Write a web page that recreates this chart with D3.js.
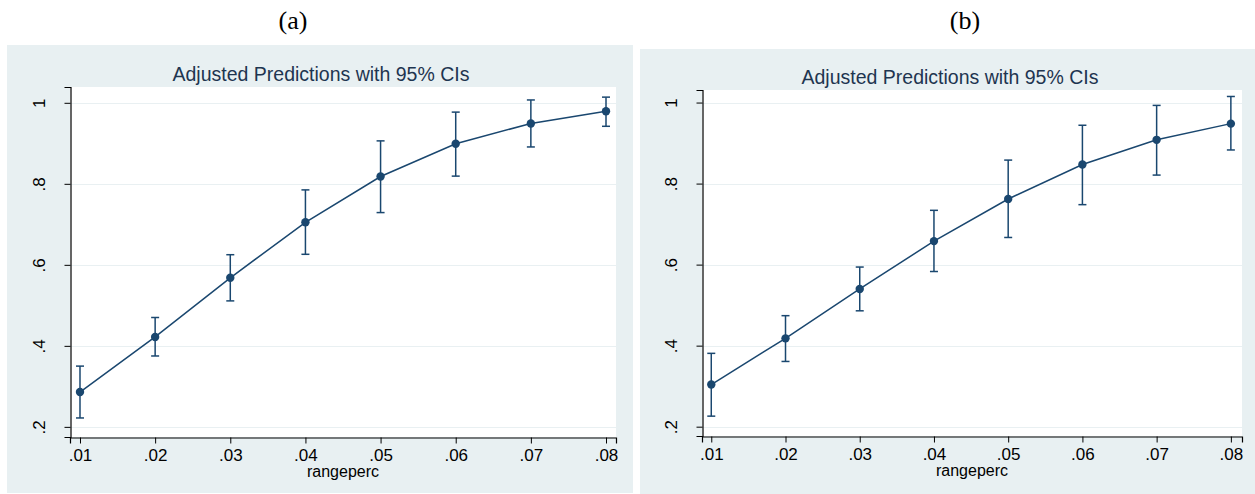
<!DOCTYPE html>
<html>
<head>
<meta charset="utf-8">
<script src="https://cdn.jsdelivr.net/npm/d3@7"></script>
<style>
  html, body { margin: 0; padding: 0; background: #ffffff; }
  svg { display: block; }
</style>
</head>
<body>
<svg id="chart" width="1255" height="494"></svg>
<script>
// Predicted margins at each rangeperc level, with 95% confidence bounds
const xValues = [0.01, 0.02, 0.03, 0.04, 0.05, 0.06, 0.07, 0.08];
const xTickLabels = [".01", ".02", ".03", ".04", ".05", ".06", ".07", ".08"];
const yTicks = [0.2, 0.4, 0.6, 0.8, 1];
const yTickLabels = [".2", ".4", ".6", ".8", "1"];

const marginA = [0.286, 0.422, 0.568, 0.705, 0.818, 0.899, 0.949, 0.979];
const upperA  = [0.350, 0.470, 0.625, 0.785, 0.906, 0.977, 1.007, 1.014];
const lowerA  = [0.222, 0.375, 0.511, 0.626, 0.729, 0.819, 0.891, 0.942];

const marginB = [0.304, 0.418, 0.540, 0.658, 0.762, 0.847, 0.908, 0.948];
const upperB  = [0.381, 0.474, 0.594, 0.734, 0.858, 0.944, 0.993, 1.015];
const lowerB  = [0.226, 0.361, 0.486, 0.583, 0.667, 0.748, 0.821, 0.883];

const panelNames = ["(a)", "(b)"];
const chartTitle = "Adjusted Predictions with 95% CIs";
const xAxisTitle = "rangeperc";

const svg = d3.select("#chart");
const navy = "#1a476f";
const graphBg = "#e8f0f2";
const gridCol = "#e9f0f2";
const sans = "'Liberation Sans', Arial, sans-serif";

const panels = [
  { name: panelNames[0], margin: marginA, upper: upperA, lower: lowerA,
    box: { x: 7, y: 45, w: 626, h: 448 }, labelX: 293,
    plot: { x0: 70, x1: 616, y0: 87, y1: 437 },
    xDom: [0.00867, 0.08133], yDom: [0.175, 1.039] },
  { name: panelNames[1], margin: marginB, upper: upperB, lower: lowerB,
    box: { x: 640, y: 49, w: 620, h: 445 }, labelX: 965,
    plot: { x0: 702, x1: 1242, y0: 90, y1: 436 },
    xDom: [0.00875, 0.0815], yDom: [0.177, 1.031] }
];

panels.forEach(p => {
  const g = svg.append("g");

  // panel caption above the graph
  g.append("text")
    .attr("x", p.labelX).attr("y", 29)
    .attr("text-anchor", "middle")
    .attr("font-family", "'Liberation Serif', 'Times New Roman', serif")
    .attr("font-size", 26)
    .attr("fill", "#000")
    .text(p.name);

  // graph region
  g.append("rect")
    .attr("x", p.box.x).attr("y", p.box.y)
    .attr("width", p.box.w).attr("height", p.box.h)
    .attr("fill", graphBg);

  // plot region
  g.append("rect")
    .attr("x", p.plot.x0).attr("y", p.plot.y0)
    .attr("width", p.plot.x1 - p.plot.x0).attr("height", p.plot.y1 - p.plot.y0)
    .attr("fill", "#ffffff");

  const x = d3.scaleLinear().domain(p.xDom).range([p.plot.x0, p.plot.x1]);
  const y = d3.scaleLinear().domain(p.yDom).range([p.plot.y1, p.plot.y0]);

  // horizontal grid lines
  g.append("g").selectAll("line").data(yTicks).join("line")
    .attr("x1", p.plot.x0).attr("x2", p.plot.x1)
    .attr("y1", d => Math.round(y(d)) + 0.5).attr("y2", d => Math.round(y(d)) + 0.5)
    .attr("stroke", gridCol).attr("stroke-width", 1.2);

  // title
  g.append("text")
    .attr("x", (p.plot.x0 + p.plot.x1) / 2 - 22)
    .attr("y", p.plot.y0 - 6)
    .attr("text-anchor", "middle")
    .attr("font-family", sans)
    .attr("font-size", 19.5)
    .attr("fill", "#1e3550")
    .text(chartTitle);

  // y axis with vertical tick labels
  const yAxis = d3.axisLeft(y).tickValues(yTicks)
    .tickFormat((d, i) => yTickLabels[i]).tickSize(6).tickPadding(0);
  const ya = g.append("g")
    .attr("transform", `translate(${p.plot.x0 + 0.5},0)`)
    .call(yAxis);
  ya.select(".domain").attr("stroke", "#000").attr("stroke-width", 1.2);
  ya.selectAll(".tick line").attr("stroke", "#000").attr("stroke-width", 1);
  ya.selectAll(".tick text")
    .attr("font-family", sans).attr("font-size", 17).attr("fill", "#000")
    .attr("text-anchor", "middle")
    .attr("x", null).attr("dy", null)
    .attr("transform", "translate(-31,0) rotate(-90)")
    .attr("dominant-baseline", "central");

  // x axis
  const xAxis = d3.axisBottom(x).tickValues(xValues)
    .tickFormat((d, i) => xTickLabels[i]).tickSize(6).tickPadding(5);
  const xa = g.append("g")
    .attr("transform", `translate(0,${p.plot.y1 + 0.5})`)
    .call(xAxis);
  xa.select(".domain").attr("stroke", "#000").attr("stroke-width", 1.2);
  xa.selectAll(".tick line").attr("stroke", "#000").attr("stroke-width", 1);
  xa.selectAll(".tick text")
    .attr("font-family", sans).attr("font-size", 17).attr("fill", "#000");

  // x axis title
  g.append("text")
    .attr("x", (p.plot.x0 + p.plot.x1) / 2)
    .attr("y", p.plot.y1 + 40)
    .attr("text-anchor", "middle")
    .attr("font-family", sans)
    .attr("font-size", 16)
    .attr("fill", "#000")
    .text(xAxisTitle);

  const rows = xValues.map((v, i) => ({ v, m: p.margin[i], hi: p.upper[i], lo: p.lower[i] }));

  // confidence interval bars with caps
  const ci = g.append("g").attr("stroke", navy).attr("stroke-width", 1.5).attr("fill", "none");
  ci.selectAll("line.bar").data(rows).join("line").attr("class", "bar")
    .attr("x1", d => x(d.v)).attr("x2", d => x(d.v))
    .attr("y1", d => y(d.hi)).attr("y2", d => y(d.lo));
  ci.selectAll("line.capHi").data(rows).join("line").attr("class", "capHi")
    .attr("x1", d => x(d.v) - 4).attr("x2", d => x(d.v) + 4)
    .attr("y1", d => y(d.hi)).attr("y2", d => y(d.hi));
  ci.selectAll("line.capLo").data(rows).join("line").attr("class", "capLo")
    .attr("x1", d => x(d.v) - 4).attr("x2", d => x(d.v) + 4)
    .attr("y1", d => y(d.lo)).attr("y2", d => y(d.lo));

  // connecting line of predicted margins
  g.append("path").datum(rows)
    .attr("fill", "none").attr("stroke", navy).attr("stroke-width", 1.5)
    .attr("d", d3.line().x(d => x(d.v)).y(d => y(d.m)));

  // markers
  g.append("g").selectAll("circle").data(rows).join("circle")
    .attr("cx", d => x(d.v)).attr("cy", d => y(d.m))
    .attr("r", 4.2).attr("fill", navy);
});
</script>
</body>
</html>
